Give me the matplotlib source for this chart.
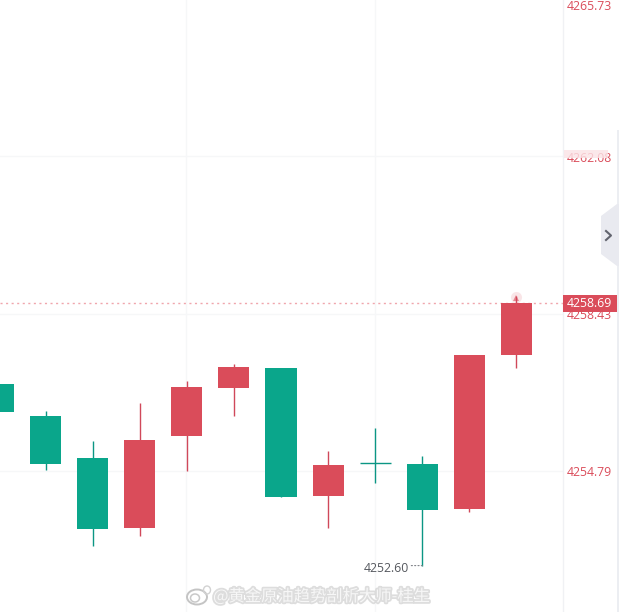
#!/usr/bin/python
import matplotlib
matplotlib.use("Agg")
import matplotlib.pyplot as plt
import matplotlib.patheffects as pe
from matplotlib.patches import Polygon, Rectangle, Ellipse

# Graphing data
opens = [4256.80, 4256.06, 4255.09, 4253.47, 4255.60, 4256.71, 4257.17, 4254.21, 4254.98, 4254.95, 4253.91, 4257.48]
closes = [4256.16, 4254.95, 4253.45, 4255.51, 4256.73, 4257.20, 4254.19, 4254.93, 4254.98, 4253.89, 4257.48, 4258.69]
highs = [4256.80, 4256.18, 4255.48, 4256.36, 4256.87, 4257.27, 4257.17, 4255.25, 4255.79, 4255.14, 4257.48, 4258.84]
lows = [4256.16, 4254.81, 4253.05, 4253.29, 4254.79, 4256.06, 4254.19, 4253.47, 4254.51, 4252.60, 4253.84, 4257.17]
price_ticks = [4254.79, 4258.43, 4262.08, 4265.73]
last_price = 4258.69
low_price = 4252.60
low_index = 9
v_grid = [3.99, 7.99]
watermark = "@黄金原油趋势剖析大师-桂生"

RED = "#da4c5a"
GREEN = "#0aa68b"
GRID = "#f6f7f8"
W, H = 619, 612

plt.rcParams["font.family"] = ["Open Sans", "DejaVu Sans"]
fig = plt.figure(figsize=(W / 100, H / 100), dpi=100, facecolor="white")
ax = fig.add_axes([0, 0, 562.5 / W, 1])
ax.set_xlim(0.032, 11.977)
ax.set_ylim(4254.79 - 141 / 43.2, 4254.79 + 471 / 43.2)
ax.set_xticks([])
ax.set_yticks([])
for name, sp in ax.spines.items():
    sp.set_visible(name == "right")
    sp.set_color("#f0f1f4")
    sp.set_linewidth(1)

# grid
for v in price_ticks[:3]:
    ax.axhline(v, color=GRID, lw=1, zorder=0)
for x in v_grid:
    ax.axvline(x, color=GRID, lw=1, zorder=0)

# candles
for i in range(len(opens)):
    color = RED if closes[i] > opens[i] else GREEN
    wick = "#d0485a" if closes[i] > opens[i] else "#0b9684"
    ax.vlines(i, lows[i], highs[i], color=wick, lw=1.0, zorder=2)
    if opens[i] == closes[i]:
        ax.hlines(opens[i], i - 0.33, i + 0.33, color=wick, lw=1.0, zorder=2)
    else:
        ax.bar(i, abs(closes[i] - opens[i]), bottom=min(opens[i], closes[i]),
               width=0.66, color=color, lw=0, zorder=3)

# last price line and tag
ax.axhline(last_price, color="#f0a6ad", lw=1, ls=(0, (1.5, 2.5)), zorder=1)
ax.plot([len(opens) - 1], [highs[-1] - 0.03], marker="o", ms=8, color=RED, alpha=0.14, mew=0, zorder=1)
ax.plot([len(opens) - 1], [highs[-1] - 0.04], marker="^", ms=5, color=RED, alpha=0.6, mew=0, zorder=1)

# price axis labels
ytrans = ax.get_yaxis_transform()
for v in price_ticks[:3]:
    ax.annotate("%.2f" % v, xy=(1, v), xycoords=ytrans, xytext=(4, -2), textcoords="offset pixels",
                color=RED, fontsize=8.8, va="center", ha="left", annotation_clip=False)
fig.text(566.5 / W, 1 - 6 / H, "%.2f" % price_ticks[3], color=RED, fontsize=8.8, va="center", ha="left")
# the smeared label is half covered in the reference
fig.patches.append(Rectangle((564 / W, 1 - 158 / H), 44 / W, 8 / H, transform=fig.transFigure,
                             facecolor="#fbe3e6", alpha=0.82, lw=0, zorder=5))
fig.patches.append(Rectangle((563 / W, 1 - 312 / H), 54 / W, 17 / H, transform=fig.transFigure,
                             facecolor=RED, lw=0, zorder=6))
fig.text(566.5 / W, 1 - 303.5 / H, "%.2f" % last_price, color="white", fontsize=8.8, va="center", ha="left", zorder=7)

# side strip and collapse tab
fig.patches.append(Rectangle((617 / W, 0), 2 / W, (H - 130) / H, transform=fig.transFigure,
                             facecolor="#eceef2", lw=0, zorder=4))
tab = [(601, 216), (617, 204), (619, 204), (619, 266), (617, 266), (601, 254)]
fig.patches.append(Polygon([(x / W, 1 - y / H) for x, y in tab], transform=fig.transFigure,
                           facecolor="#e9eaf0", lw=0, zorder=5))
fig.lines.append(plt.Line2D([606 / W, 611 / W, 606 / W], [1 - 231 / H, 1 - 235.5 / H, 1 - 240 / H],
                            transform=fig.transFigure, color="#62646e", lw=1.5, zorder=6))

# lowest price note
ax.annotate("%.2f" % low_price, xy=(low_index, low_price), xytext=(-13, -3), textcoords="offset pixels",
            color="#55585e", fontsize=8.8, va="center", ha="right")
ax.annotate("", xy=(low_index, low_price), xytext=(-11, 0), textcoords="offset pixels",
            arrowprops=dict(arrowstyle="-", color="#7d8086", lw=0.8, ls=(0, (1, 2)), shrinkA=0, shrinkB=0))

# watermark
glow = [pe.withStroke(linewidth=2.5, foreground="#d2d2d2", alpha=0.75)]
fig.text(213 / W, 1 - 596.5 / H, watermark, color="#f7f7f7", fontsize=11.75, va="center", ha="left", zorder=8,
         family=["Noto Sans CJK SC", "DejaVu Sans"], path_effects=glow)
fig.patches.append(Ellipse((197 / W, 1 - 597 / H), 20 / W, 15 / H, transform=fig.transFigure, fill=False,
                           edgecolor="#c4c4c4", lw=1.4, zorder=8))
fig.patches.append(Ellipse((195 / W, 1 - 598 / H), 9 / W, 8 / H, transform=fig.transFigure, fill=False,
                           edgecolor="#c9c9c9", lw=1.1, zorder=8))
fig.patches.append(Ellipse((207 / W, 1 - 590 / H), 7 / W, 8 / H, transform=fig.transFigure, fill=False,
                           edgecolor="#d2d2d2", lw=1.0, zorder=8))

fig.savefig("out.png", dpi=100, facecolor="white")
